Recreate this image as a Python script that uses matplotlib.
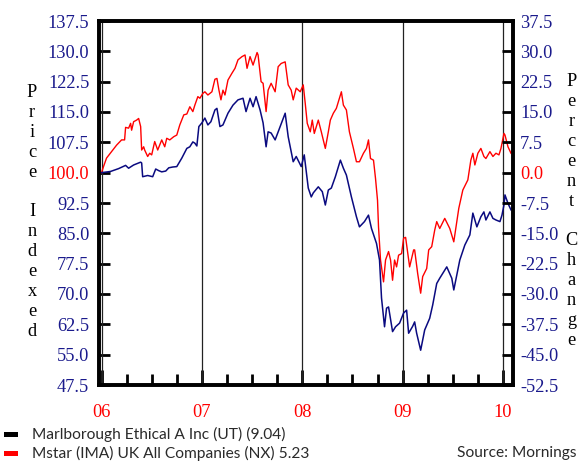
import matplotlib
matplotlib.use("Agg")
import matplotlib.pyplot as plt
from matplotlib.patches import Rectangle
import numpy as np

# ---- data (decimal year, index value) ----
fund_t = [2006.00, 2006.09, 2006.17, 2006.24, 2006.27, 2006.32, 2006.39, 2006.40, 2006.41, 2006.46,
          2006.51, 2006.54, 2006.57, 2006.60, 2006.64, 2006.67, 2006.71, 2006.75, 2006.80, 2006.85,
          2006.88, 2006.91, 2006.93, 2006.95, 2006.97, 2007.00, 2007.03, 2007.06, 2007.09, 2007.13,
          2007.15, 2007.18, 2007.21, 2007.26, 2007.31, 2007.36, 2007.41, 2007.44, 2007.48, 2007.51,
          2007.54, 2007.58, 2007.61, 2007.64, 2007.66, 2007.69, 2007.73, 2007.78, 2007.83, 2007.86,
          2007.91, 2007.94, 2007.99, 2008.02, 2008.06, 2008.09, 2008.11, 2008.16, 2008.20, 2008.23,
          2008.26, 2008.29, 2008.33, 2008.38, 2008.41, 2008.44, 2008.49, 2008.54, 2008.57, 2008.62,
          2008.66, 2008.69, 2008.74, 2008.77, 2008.79, 2008.82, 2008.84, 2008.86, 2008.90, 2008.93,
          2008.97, 2009.01, 2009.04, 2009.06, 2009.10, 2009.12, 2009.14, 2009.18, 2009.22, 2009.27,
          2009.30, 2009.34, 2009.37, 2009.44, 2009.49, 2009.51, 2009.57, 2009.62, 2009.67, 2009.70,
          2009.74, 2009.78, 2009.81, 2009.83, 2009.87, 2009.90, 2009.93, 2009.97, 2009.99, 2010.01,
          2010.02, 2010.05, 2010.08]
fund_v = [100.0, 100.3, 101.0, 101.8, 101.1, 101.9, 102.6, 102.4, 99.0, 99.3,
          99.0, 100.9, 100.5, 100.2, 100.4, 101.2, 101.4, 101.5, 103.6, 106.0,
          106.4, 107.6, 107.3, 106.6, 111.4, 112.3, 113.5, 111.8, 112.6, 115.5,
          115.9, 111.4, 111.8, 114.7, 116.7, 118.0, 118.4, 115.1, 118.4, 116.3,
          118.8, 115.5, 112.3, 106.4, 110.1, 109.8, 108.1, 111.4, 114.7, 108.9,
          102.7, 104.0, 101.5, 104.4, 96.2, 94.0, 95.0, 96.5, 95.3, 92.0,
          95.7, 96.2, 99.0, 103.1, 101.1, 99.4, 94.0, 89.1, 86.6, 87.9,
          89.5, 86.2, 82.5, 78.4, 69.0, 61.9, 66.5, 66.8, 60.7, 61.9,
          62.8, 65.3, 66.0, 60.3, 62.0, 63.1, 60.3, 56.1, 61.1, 64.0,
          67.3, 72.6, 73.9, 76.7, 73.9, 71.0, 78.4, 82.1, 84.6, 90.0,
          86.6, 89.1, 90.3, 88.3, 90.3, 88.7, 88.3, 87.9, 89.5, 92.0,
          94.5, 92.4, 90.8]

sector_t = [2006.00, 2006.02, 2006.05, 2006.10, 2006.15, 2006.20, 2006.23, 2006.24, 2006.27, 2006.29,
            2006.30, 2006.32, 2006.35, 2006.37, 2006.39, 2006.40, 2006.42, 2006.43, 2006.46, 2006.48,
            2006.50, 2006.53, 2006.56, 2006.60, 2006.63, 2006.65, 2006.68, 2006.72, 2006.75, 2006.78,
            2006.82, 2006.85, 2006.88, 2006.91, 2006.93, 2006.96, 2006.98, 2007.01, 2007.03, 2007.06,
            2007.10, 2007.13, 2007.15, 2007.17, 2007.19, 2007.21, 2007.23, 2007.26, 2007.30, 2007.33,
            2007.36, 2007.40, 2007.43, 2007.45, 2007.48, 2007.51, 2007.55, 2007.56, 2007.59, 2007.61,
            2007.64, 2007.66, 2007.69, 2007.73, 2007.76, 2007.79, 2007.83, 2007.86, 2007.89, 2007.91,
            2007.94, 2007.98, 2008.01, 2008.03, 2008.05, 2008.08, 2008.10, 2008.12, 2008.16, 2008.19,
            2008.23, 2008.26, 2008.28, 2008.31, 2008.34, 2008.39, 2008.41, 2008.44, 2008.47, 2008.51,
            2008.54, 2008.57, 2008.61, 2008.64, 2008.66, 2008.68, 2008.71, 2008.73, 2008.75, 2008.76,
            2008.78, 2008.81, 2008.83, 2008.86, 2008.88, 2008.90, 2008.92, 2008.94, 2008.96, 2008.99,
            2009.01, 2009.03, 2009.07, 2009.11, 2009.12, 2009.15, 2009.18, 2009.20, 2009.24, 2009.26,
            2009.29, 2009.32, 2009.34, 2009.37, 2009.42, 2009.47, 2009.51, 2009.56, 2009.60, 2009.65,
            2009.68, 2009.70, 2009.72, 2009.75, 2009.78, 2009.81, 2009.83, 2009.87, 2009.90, 2009.93,
            2009.96, 2009.98, 2010.01, 2010.02, 2010.05, 2010.08]
sector_v = [100.0, 101.5, 103.6, 105.2, 106.8, 108.1, 108.1, 111.2, 111.0, 112.2,
            110.5, 112.6, 113.0, 113.4, 111.4, 105.6, 106.4, 105.6, 104.0, 104.8,
            104.4, 107.7, 105.6, 108.1, 106.4, 108.5, 108.1, 108.9, 109.3, 111.8,
            114.3, 114.5, 116.3, 115.1, 116.7, 118.8, 118.4, 119.6, 120.0, 119.2,
            120.0, 123.1, 123.3, 120.4, 118.0, 120.4, 119.2, 122.9, 124.6, 125.8,
            127.9, 128.7, 129.1, 125.8, 128.7, 126.6, 129.7, 129.1, 122.5, 122.1,
            115.1, 120.4, 122.1, 120.0, 126.2, 127.0, 127.4, 121.7, 120.4, 118.0,
            120.9, 120.0, 121.7, 117.1, 112.2, 110.1, 113.0, 109.7, 113.0, 110.1,
            106.0, 110.1, 113.0, 114.7, 115.9, 120.0, 116.7, 115.5, 110.1, 106.0,
            102.7, 102.7, 104.8, 106.0, 108.1, 103.5, 103.1, 98.6, 93.2, 86.6,
            78.4, 73.0, 78.4, 80.5, 78.4, 73.4, 78.4, 76.7, 79.6, 80.0,
            83.8, 84.0, 76.7, 80.9, 80.9, 75.1, 70.2, 74.3, 76.3, 80.9,
            81.7, 85.8, 87.9, 86.2, 88.7, 86.2, 82.9, 91.2, 95.7, 98.2,
            103.1, 104.8, 101.9, 104.8, 106.0, 104.0, 103.5, 105.2, 104.0, 104.8,
            104.4, 106.0, 109.7, 109.3, 106.4, 104.8]

year_ticks = [2006, 2007, 2008, 2009, 2010]
year_labels = ["06", "07", "08", "09", "10"]
left_ticks = [47.5, 55.0, 62.5, 70.0, 77.5, 85.0, 92.5, 100.0, 107.5, 115.0, 122.5, 130.0, 137.5]
right_ticks = [-52.5, -45.0, -37.5, -30.0, -22.5, -15.0, -7.5, 0.0, 7.5, 15.0, 22.5, 30.0, 37.5]

legend_labels = ["Marlborough Ethical A Inc (UT) (9.04)", "Mstar (IMA) UK All Companies (NX) 5.23"]
source_text = "Source: Mornings"

NAVY = "#1a1a8c"
FUND_C = "#0a0a80"
RED = "#ff0000"
SERIF = "Liberation Serif"
SANS = "Lato"
FS = 13.2

fig = plt.figure(figsize=(5.78, 4.62), dpi=100)
ax = fig.add_axes([99/578, 1-385/462, (513-99)/578, (385-21)/462])

ax.plot(sector_t, sector_v, color=RED, lw=1.0, zorder=3)
ax.plot(fund_t, fund_v, color=FUND_C, lw=1.1, zorder=4)

for yr in year_ticks:
    ax.axvline(yr, color="#222222", lw=0.9, zorder=2)

ax.set_xlim(2005.975, 2010.10)
ax.set_ylim(47.5, 137.5)

for s in ax.spines.values():
    s.set_linewidth(2.6)
    s.set_color("black")

ax.set_yticks(left_ticks)
ax.set_yticklabels([f"{v:.1f}" for v in left_ticks], fontfamily=SERIF, fontsize=FS)
for lab, v in zip(ax.get_yticklabels(), left_ticks):
    lab.set_color(RED if v == 100.0 else NAVY)
ax.tick_params(axis="y", direction="in", length=8, width=2, pad=7, right=False)

qt = [2006 + 0.25*i for i in range(17)]
ax.set_xticks(qt, minor=True)
ax.set_xticks(year_ticks)
ax.set_xticklabels(year_labels, fontfamily=SERIF, fontsize=FS, color=RED)
ax.tick_params(axis="x", which="major", direction="in", length=11, width=2, pad=14)
ax.tick_params(axis="x", which="minor", direction="in", length=8, width=2)

ax2 = ax.twinx()
ax2.set_position(ax.get_position())
ax2.set_ylim(-52.5, 37.5)
ax2.set_yticks(right_ticks)
ax2.set_yticklabels([f"{v:.1f}" for v in right_ticks], fontfamily=SERIF, fontsize=FS)
for lab, v in zip(ax2.get_yticklabels(), right_ticks):
    lab.set_color(RED if v == 0.0 else NAVY)
ax2.tick_params(axis="y", direction="in", length=8, width=2, pad=5)
for s in ax2.spines.values():
    s.set_linewidth(2.6)

fig.text(32/578, 1-212/462, "P\nr\ni\nc\ne\n\nI\nn\nd\ne\nx\ne\nd", ha="center", va="center",
         fontfamily=SERIF, fontsize=FS, linespacing=1.22, color="black")
fig.text(571.5/578, 1-211/462, "P\ne\nr\nc\ne\nn\nt\n\nC\nh\na\nn\ng\ne", ha="center", va="center",
         fontfamily=SERIF, fontsize=FS, linespacing=1.22, color="black")

for i, (lab, col) in enumerate(zip(legend_labels, ["black", RED])):
    yc = 434 + 19*i
    fig.patches.append(Rectangle((4/578, 1-(yc+2.5)/462), 14/578, 5/462, transform=fig.transFigure,
                                 facecolor=col, edgecolor="none"))
    fig.text(32/578, 1-yc/462, lab, ha="left", va="center", fontfamily=SANS, fontsize=11.2, color="#2a2a2a")

fig.text(457/578, 1-453/462, source_text, ha="left", va="center", fontfamily=SANS, fontsize=11.2, color="#2a2a2a")

fig.savefig("out.png", dpi=100)
